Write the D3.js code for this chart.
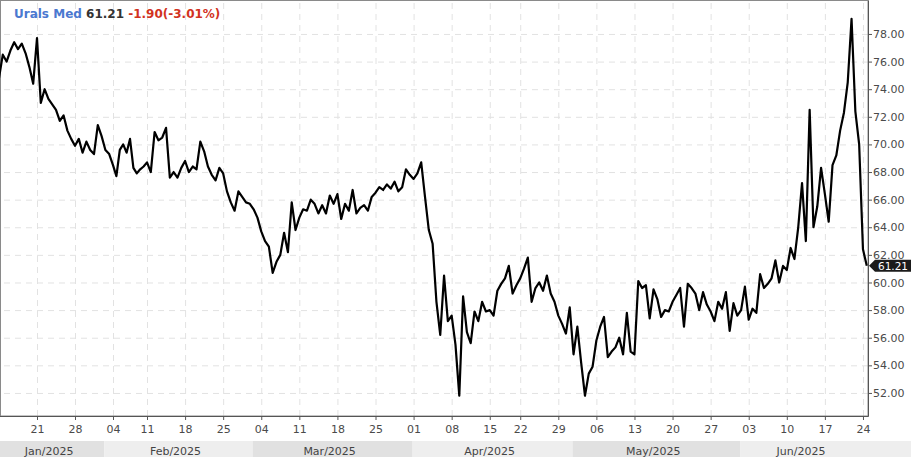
<!DOCTYPE html>
<html>
<head>
<meta charset="utf-8">
<script src="https://cdn.jsdelivr.net/npm/d3@7"></script>
<style>
  html, body { margin: 0; padding: 0; background: #fff; }
  svg { display: block; font-family: "DejaVu Sans", sans-serif; }
</style>
</head>
<body>
<svg id="chart" width="911" height="457"></svg>
<script>
'use strict';

// sessions shown (weekdays, minus exchange holidays)
var startDate = '2025-01-14';
var endDate = '2025-06-24';
var holidays = ['2025-04-18'];

var tickDates = ['2025-01-21', '2025-01-28', '2025-02-04', '2025-02-11', '2025-02-18', '2025-02-25',
  '2025-03-04', '2025-03-11', '2025-03-18', '2025-03-25', '2025-04-01', '2025-04-08', '2025-04-15',
  '2025-04-22', '2025-04-29', '2025-05-06', '2025-05-13', '2025-05-20', '2025-05-27', '2025-06-03',
  '2025-06-10', '2025-06-17', '2025-06-24'];
var tickLabels = ['21', '28', '04', '11', '18', '25', '04', '11', '18', '25', '01', '08', '15',
  '22', '29', '06', '13', '20', '27', '03', '10', '17', '24'];

var months = ['2025-01', '2025-02', '2025-03', '2025-04', '2025-05', '2025-06'];
var monthLabels = ['Jan/2025', 'Feb/2025', 'Mar/2025', 'Apr/2025', 'May/2025', 'Jun/2025'];

var yTicks = [52, 54, 56, 58, 60, 62, 64, 66, 68, 70, 72, 74, 76, 78];

// two readings per session (first half, second half), USD/bbl
var prices = [
  74.8, 76.5, 76.0, 76.8, 77.4, 76.9, 77.3, 76.6, 75.6, 74.4,
  77.7, 73.0, 74.0, 73.3, 72.9, 72.5, 71.7, 72.1, 71.0, 70.4,
  69.9, 70.4, 69.4, 70.2, 69.6, 69.3, 71.4, 70.6, 69.6, 69.3,
  68.5, 67.7, 69.6, 70.0, 69.4, 70.4, 68.3, 67.9, 68.2, 68.4,
  68.7, 68.0, 70.9, 70.3, 70.5, 71.2, 67.6, 68.0, 67.6, 68.3,
  68.8, 68.0, 68.4, 68.2, 70.2, 69.5, 68.4, 67.8, 67.4, 68.3,
  67.9, 66.6, 65.8, 65.2, 66.6, 66.2, 65.8, 65.7, 65.3, 64.7,
  63.7, 63.0, 62.6, 60.7, 61.5, 62.0, 63.6, 62.2, 65.8, 63.8,
  64.7, 65.3, 65.2, 66.0, 65.7, 65.0, 65.6, 65.0, 66.3, 65.7,
  66.4, 64.6, 65.7, 65.2, 66.7, 65.0, 65.4, 65.6, 65.2, 66.2,
  66.5, 66.9, 66.7, 67.1, 66.8, 67.3, 66.6, 66.9, 68.2, 67.8,
  67.5, 67.9, 68.7, 66.2, 63.8, 62.8, 58.6, 56.2, 60.5, 57.2,
  57.6, 55.5, 51.8, 59.0, 56.4, 55.6, 57.9, 57.2, 58.6, 57.9,
  58.0, 57.6, 59.4, 59.9, 60.3, 61.2, 59.2, 59.8, 60.3, 61.0,
  61.8, 58.6, 59.6, 60.0, 59.4, 60.5, 59.2, 58.6, 57.6, 57.0,
  56.3, 58.2, 54.8, 56.8, 54.2, 51.8, 53.4, 53.9, 55.8, 56.8,
  57.5, 54.6, 55.0, 55.3, 56.0, 54.8, 57.8, 55.0, 54.8, 60.1,
  59.6, 59.8, 57.4, 59.5, 58.8, 57.5, 58.0, 57.9, 58.6, 59.1,
  59.6, 56.8, 59.9, 59.6, 59.2, 58.0, 59.3, 58.4, 57.9, 57.2,
  58.6, 58.1, 59.3, 56.5, 58.5, 57.6, 58.0, 59.7, 57.3, 58.1,
  57.8, 60.6, 59.6, 59.9, 60.3, 61.6, 60.0, 61.2, 60.9, 62.5,
  61.7, 64.0, 67.2, 63.0, 72.5, 64.0, 65.5, 68.3, 66.4, 64.4,
  68.5, 69.2, 71.0, 72.3, 74.5, 79.1, 72.4, 70.0, 62.4, 61.21
];

var title = 'Urals Med';
var lastPrice = 61.21;
var change = -1.90;
var changePct = -3.01;

var W = 911, H = 457;
var plotRight = 868, plotBottom = 416;

var parseDay = d3.utcParse('%Y-%m-%d');
var fmtDay = d3.utcFormat('%Y-%m-%d');
var days = d3.utcDays(parseDay(startDate), d3.utcDay.offset(parseDay(endDate), 1))
  .filter(function(d) {
    var w = d.getUTCDay();
    return w !== 0 && w !== 6 && holidays.indexOf(fmtDay(d)) < 0;
  })
  .map(fmtDay);

function dayIndex(s) { return days.indexOf(s); }

// session axis; the feed has a thin week in early February, hence the extra stop
var x = d3.scaleLinear()
  .domain([0, dayIndex('2025-02-04'), dayIndex('2025-02-11'), days.length - 0.34])
  .range([-1, 113, 147, plotRight]);
var y = d3.scaleLinear().domain([50.33, 80.46]).range([plotBottom, 0]);

var svg = d3.select('#chart');

// month band under the axis
var monthStart = months.map(function(m) {
  return days.findIndex(function(d) { return d.slice(0, 7) === m; });
});
var band = svg.append('g');
months.forEach(function(m, i) {
  var x0 = i === 0 ? 0 : x(monthStart[i]) - 1;
  var x1 = i === months.length - 1 ? W : x(monthStart[i + 1]) - 1;
  band.append('rect')
    .attr('x', x0).attr('y', 441).attr('width', x1 - x0).attr('height', H - 441)
    .attr('fill', i % 2 === 0 ? '#e1e1e1' : '#eeeeee');
  var cx1 = Math.min(x1, plotRight);
  band.append('text')
    .attr('x', (x0 + cx1) / 2 - 3).attr('y', 455)
    .attr('text-anchor', 'middle')
    .attr('font-size', 11).attr('fill', '#444')
    .text(monthLabels[i]);
});

// grid
var tickIdx = tickDates.map(dayIndex);
svg.append('g')
  .attr('class', 'grid')
  .attr('transform', 'translate(0,' + plotBottom + ')')
  .call(d3.axisBottom(x).tickValues(tickIdx).tickSize(-plotBottom).tickFormat(''));
svg.append('g')
  .attr('class', 'grid')
  .attr('transform', 'translate(' + plotRight + ',0)')
  .call(d3.axisRight(y).tickValues(yTicks).tickSize(-plotRight).tickFormat(''));
svg.selectAll('.grid .domain').remove();
svg.selectAll('.grid line')
  .attr('stroke', '#e2e2e2')
  .attr('stroke-dasharray', '6,5');

// plot frame
svg.append('rect')
  .attr('x', 0.5).attr('y', 0.5)
  .attr('width', plotRight - 0.5).attr('height', plotBottom - 0.5)
  .attr('fill', 'none').attr('stroke', '#8a8a8a');

// price line
var line = d3.line()
  .x(function(d, i) { return x(i / 2); })
  .y(function(d) { return y(d); });
svg.append('path')
  .datum(prices)
  .attr('d', line)
  .attr('fill', 'none')
  .attr('stroke', '#000')
  .attr('stroke-width', 2.2)
  .attr('stroke-linejoin', 'round');

// axes
var xAxis = svg.append('g')
  .attr('transform', 'translate(0,' + plotBottom + ')')
  .call(d3.axisBottom(x).tickValues(tickIdx).tickSize(4).tickSizeOuter(0)
    .tickFormat(function(d, i) { return tickLabels[i]; }));
var yAxis = svg.append('g')
  .attr('transform', 'translate(' + plotRight + ',0)')
  .call(d3.axisRight(y).tickValues(yTicks).tickSize(4).tickSizeOuter(0)
    .tickFormat(d3.format('.2f')));
[xAxis, yAxis].forEach(function(g) {
  g.select('.domain').attr('stroke', '#555');
  g.selectAll('.tick line').attr('stroke', '#555');
  g.selectAll('.tick text')
    .attr('font-family', '"DejaVu Sans", sans-serif')
    .attr('font-size', 11)
    .attr('fill', '#4a4a4a');
});
xAxis.selectAll('.tick text').attr('dy', '0.9em').attr('y', 7);
yAxis.selectAll('.tick text').attr('x', 5);

// last price marker
var ly = y(lastPrice);
svg.append('path')
  .attr('d', 'M' + (plotRight + 1) + ',' + ly +
    'L' + (plotRight + 7) + ',' + (ly - 6) +
    'L' + W + ',' + (ly - 6) +
    'L' + W + ',' + (ly + 6) +
    'L' + (plotRight + 7) + ',' + (ly + 6) + 'Z')
  .attr('fill', '#1b1b1b');
svg.append('text')
  .attr('x', plotRight + 7 + (W - plotRight - 7) / 2).attr('y', ly + 4)
  .attr('text-anchor', 'middle')
  .attr('font-size', 10.5).attr('fill', '#fff')
  .text(lastPrice.toFixed(2));

// title
var t = svg.append('text')
  .attr('x', 14).attr('y', 18)
  .attr('font-size', 12).attr('font-weight', 'bold');
t.append('tspan').attr('fill', '#4a78d0').text(title + ' ');
t.append('tspan').attr('fill', '#333').text(lastPrice.toFixed(2) + ' ');
t.append('tspan').attr('fill', '#d2321e')
  .text(change.toFixed(2) + '(' + changePct.toFixed(2) + '%)');
</script>
</body>
</html>
